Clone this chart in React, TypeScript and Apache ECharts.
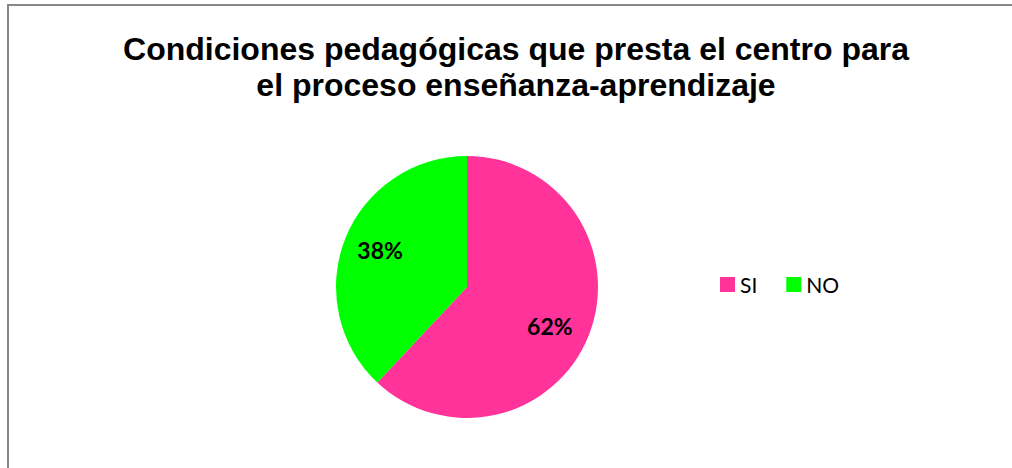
import React, { useEffect, useRef } from "react";
import * as echarts from "echarts";

const titleLines = [
  "Condiciones pedagógicas que presta el centro para",
  "el proceso enseñanza-aprendizaje",
];
const categories = ["SI", "NO"];
const values = [62, 38];
const colors = ["#FF3399", "#00FF00"];
const labelOffsets = [[-5, 4], [1, -2]];

export default function App() {
  const ref = useRef<HTMLDivElement>(null);
  useEffect(() => {
    if (!ref.current) return;
    const chart = echarts.init(ref.current, null, { renderer: "svg" });
    const data = categories.map((name, i) => ({
      name,
      value: values[i],
      itemStyle: { color: colors[i] },
    }));
    chart.setOption({
      animation: false,
      backgroundColor: "#ffffff",
      title: {
        text: titleLines.join("\n"),
        left: 511,
        textAlign: "center",
        top: 26,
        textStyle: {
          fontFamily: "Liberation Sans, Arial, sans-serif",
          fontWeight: "bold",
          fontSize: 32,
          lineHeight: 36,
          color: "#000000",
        },
      },
      legend: {
        data: categories,
        left: 720,
        top: 274,
        padding: 0,
        orient: "horizontal",
        icon: "rect",
        itemWidth: 15,
        itemHeight: 15,
        itemGap: 29,
        selectedMode: false,
        textStyle: {
          fontFamily: "Lato, sans-serif",
          fontSize: 21,
          lineHeight: 15,
          color: "#000000",
        },
      },
      graphic: [
        {
          type: "polyline",
          shape: { points: [[8, 470], [8, 5], [1014, 5]] },
          style: { stroke: "#888888", lineWidth: 2, fill: "none" },
          silent: true,
        },
      ],
      series: [
        {
          type: "pie",
          center: [467, 287],
          radius: [0, 131],
          startAngle: 90,
          clockwise: true,
          label: { show: false },
          labelLine: { show: false },
          emphasis: { disabled: true },
          data,
        },
        {
          type: "pie",
          center: [467, 287],
          radius: [52, 131],
          startAngle: 90,
          clockwise: true,
          silent: true,
          itemStyle: { color: "rgba(0,0,0,0)" },
          label: {
            show: true,
            position: "inside",
            formatter: "{d}%",
            fontFamily: "Lato, sans-serif",
            fontWeight: "bold",
            fontSize: 23,
            color: "#000000",
          },
          labelLine: { show: false },
          emphasis: { disabled: true },
          data: categories.map((name, i) => ({
            name,
            value: values[i],
            label: { offset: labelOffsets[i] },
          })),
        },
      ],
    });
    return () => chart.dispose();
  }, []);
  return (
    <div style={{ position: "fixed", left: 0, top: 0, width: 1012, height: 468, overflow: "hidden" }}>
      <div ref={ref} style={{ width: 1012, height: 468 }} />
    </div>
  );
}
